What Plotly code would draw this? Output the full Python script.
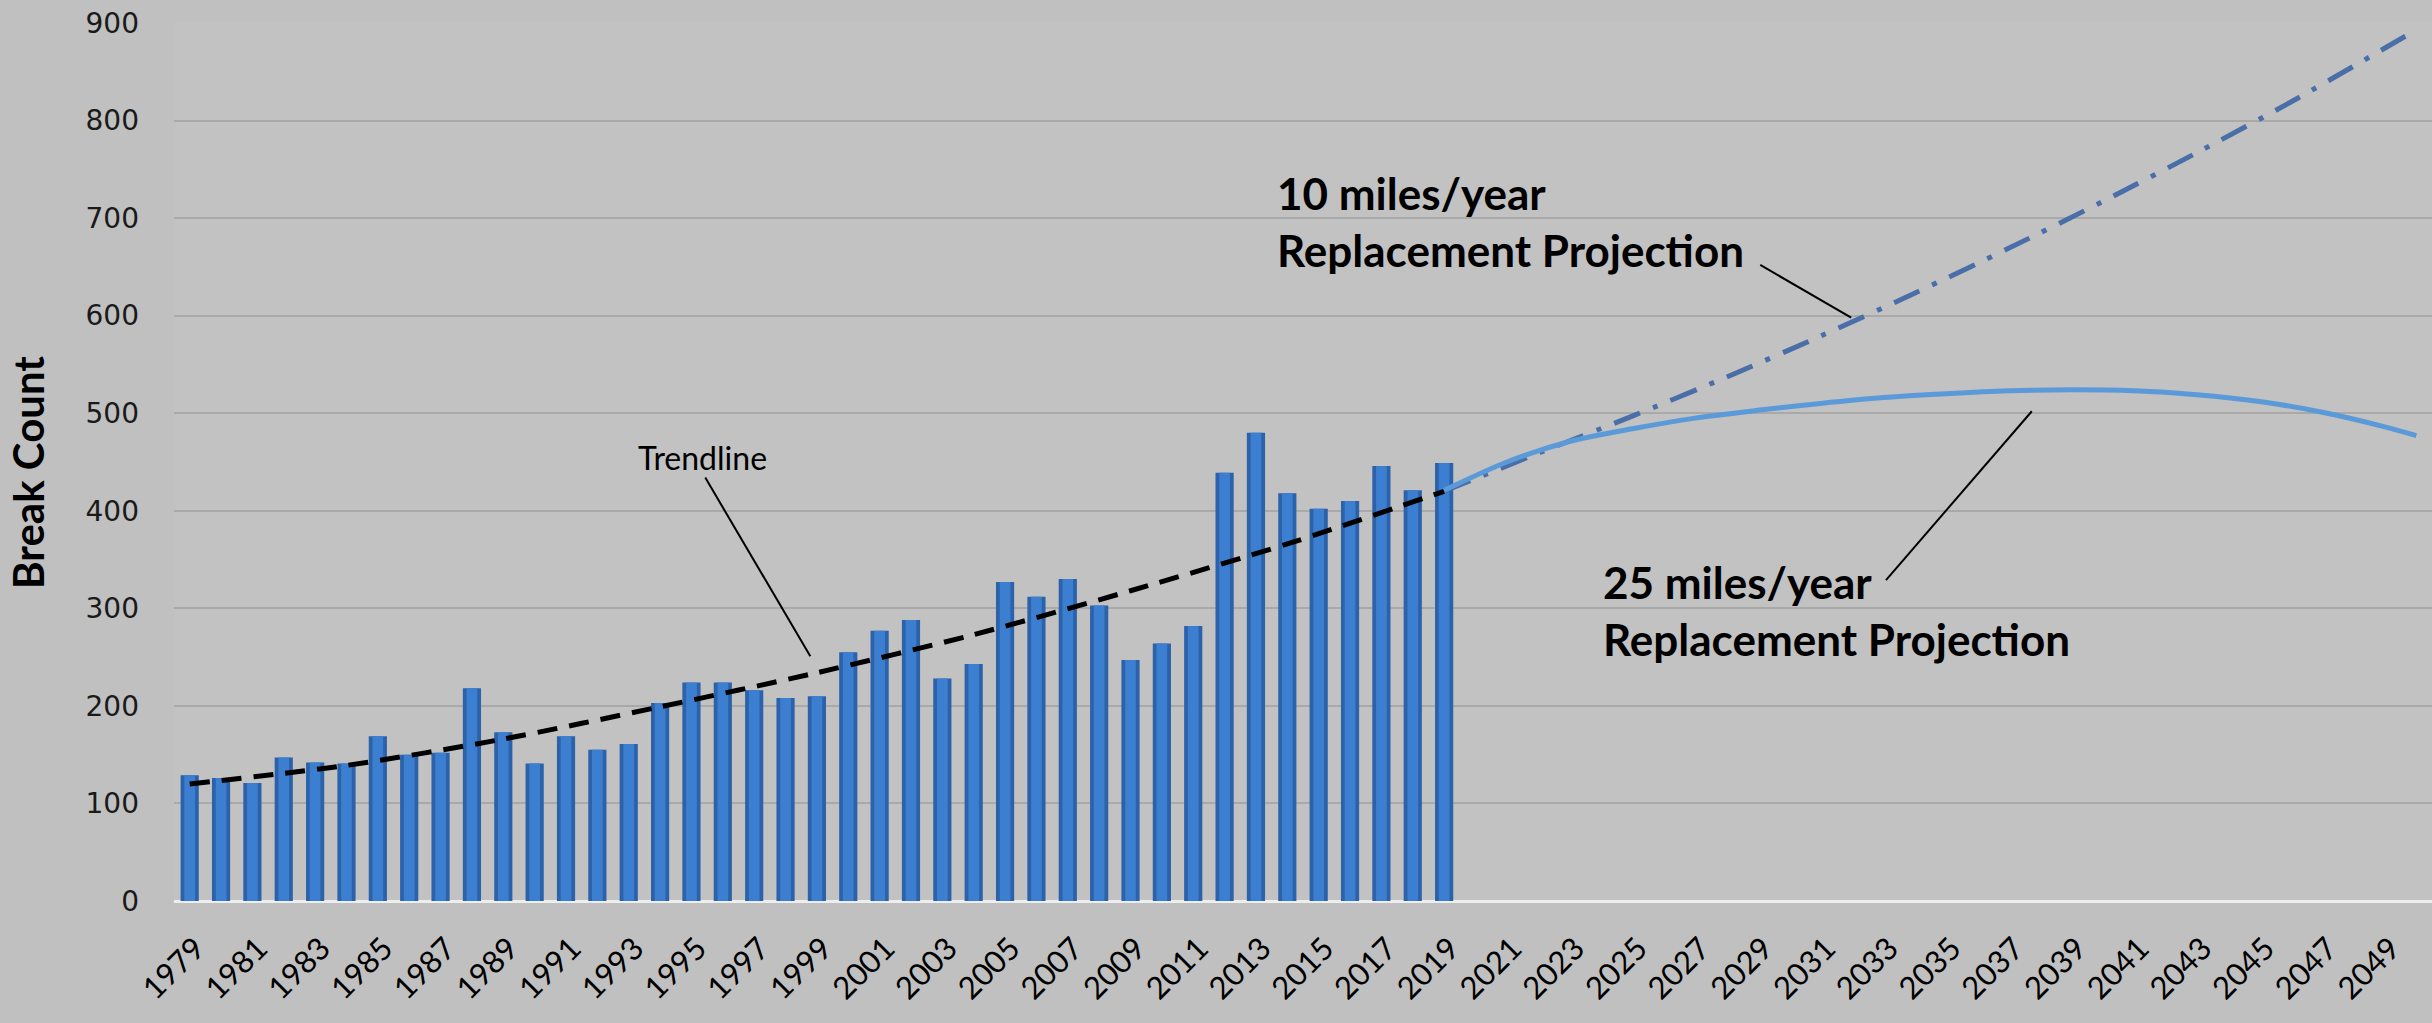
import plotly.graph_objects as go

# Annual water main break counts
years = list(range(1979, 2020))
breaks = [129, 126, 121, 147, 142, 141, 169, 150, 152, 218,
          173, 141, 169, 155, 161, 203, 224, 224, 216, 208,
          210, 255, 277, 288, 228, 243, 327, 312, 330, 303,
          247, 264, 282, 439, 480, 418, 402, 410, 446, 421,
          449]

# Historical trendline
trend_years = [1979, 1984, 1989, 1994, 1999, 2004, 2009, 2014, 2019]
trend_vals = [120, 139, 166, 199, 234, 273, 318, 366, 420]

# 10 miles/year replacement projection
proj10_years = [2019, 2022, 2025, 2028, 2031, 2034, 2037, 2040, 2043, 2046, 2050]
proj10_vals = [420, 459, 497, 537, 579, 623, 669, 717, 767, 819, 893]

# 25 miles/year replacement projection
proj25_years = [2019, 2021, 2023, 2025, 2027, 2029, 2031, 2033, 2035,
                2037, 2039, 2041, 2043, 2045, 2047, 2049, 2050]
proj25_vals = [421, 450, 471, 484, 495, 503, 510, 516, 520,
               523, 524, 523, 519, 512, 501, 486, 477]

tick_years = list(range(1979, 2050, 2))
tick_text = [str(y) for y in tick_years]

fig = go.Figure()

# cylinder-style bars: dark body with a lighter core
fig.add_trace(go.Bar(x=years, y=breaks, width=0.58,
                     marker=dict(color="#2b62aa", line=dict(width=0)),
                     showlegend=False, hoverinfo="x+y"))
fig.add_trace(go.Bar(x=years, y=breaks, width=0.34,
                     marker=dict(color="#3c7fd0", line=dict(width=0)),
                     showlegend=False, hoverinfo="skip"))

fig.add_trace(go.Scatter(x=trend_years, y=trend_vals, mode="lines",
                         line=dict(color="#000000", width=5, dash="20px,12px",
                                   shape="spline", smoothing=0.8),
                         showlegend=False))
fig.add_trace(go.Scatter(x=proj10_years, y=proj10_vals, mode="lines",
                         line=dict(color="#4a6ea8", width=5, dash="28px,14px,5px,14px",
                                   shape="spline", smoothing=0.8),
                         showlegend=False))
fig.add_trace(go.Scatter(x=proj25_years, y=proj25_vals, mode="lines",
                         line=dict(color="#5b9ad8", width=5,
                                   shape="spline", smoothing=0.8),
                         showlegend=False))

label_font = dict(family="Lato, Open Sans, sans-serif", size=44, color="#000000")

annotations = [
    dict(x=1995.35, y=455, xref="x", yref="y", text="Trendline", showarrow=False,
         font=dict(family="Lato, Open Sans, sans-serif", size=32, color="#000000"),
         xanchor="center", yanchor="middle"),
    dict(x=2013.62, y=697, xref="x", yref="y",
         text="<b>10 miles/year<br>Replacement Projection</b>", showarrow=False,
         font=label_font, xanchor="left", yanchor="middle", align="left"),
    dict(x=2024.0, y=298, xref="x", yref="y",
         text="<b>25 miles/year<br>Replacement Projection</b>", showarrow=False,
         font=label_font, xanchor="left", yanchor="middle", align="left"),
    dict(x=-0.0647, y=0.4886, xref="paper", yref="paper", text="<b>Break Count</b>",
         showarrow=False, textangle=-90,
         font=dict(family="Lato, Open Sans, sans-serif", size=42, color="#000000"),
         xanchor="center", yanchor="middle"),
]

pointer = dict(color="#000000", width=2)
shapes = [
    dict(type="line", xref="x", yref="y", x0=1995.44, y0=434, x1=1998.79, y1=251, line=pointer),
    dict(type="line", xref="x", yref="y", x0=2029.08, y0=652, x1=2031.98, y1=598, line=pointer),
    dict(type="line", xref="x", yref="y", x0=2033.09, y0=329, x1=2037.74, y1=502, line=pointer),
]

fig.update_layout(
    width=2432, height=1023,
    margin=dict(l=174, r=0, t=23, b=122),
    paper_bgcolor="#c0c0c0",
    plot_bgcolor="#c2c2c2",
    barmode="overlay",
    showlegend=False,
    annotations=annotations,
    shapes=shapes,
    xaxis=dict(range=[1978.5, 2050.5], tickmode="array", tickvals=tick_years,
               ticktext=tick_text, tickangle=-45, showgrid=False, showline=False,
               zeroline=False, ticks="", ticklabelstandoff=22, ticklabelshift=6,
               automargin=False,
               tickfont=dict(family="Lato, Open Sans, sans-serif", size=31, color="#000000")),
    yaxis=dict(range=[0, 900], dtick=100, showgrid=True, gridcolor="#a9a9a9", gridwidth=2,
               zeroline=True, zerolinecolor="#eeeeee", zerolinewidth=3, showline=False,
               ticks="", ticklabelstandoff=34, automargin=False,
               tickfont=dict(family="DejaVu Sans, Verdana, sans-serif", size=28, color="#1a1a1a")),
)

fig.write_html("out.html")
